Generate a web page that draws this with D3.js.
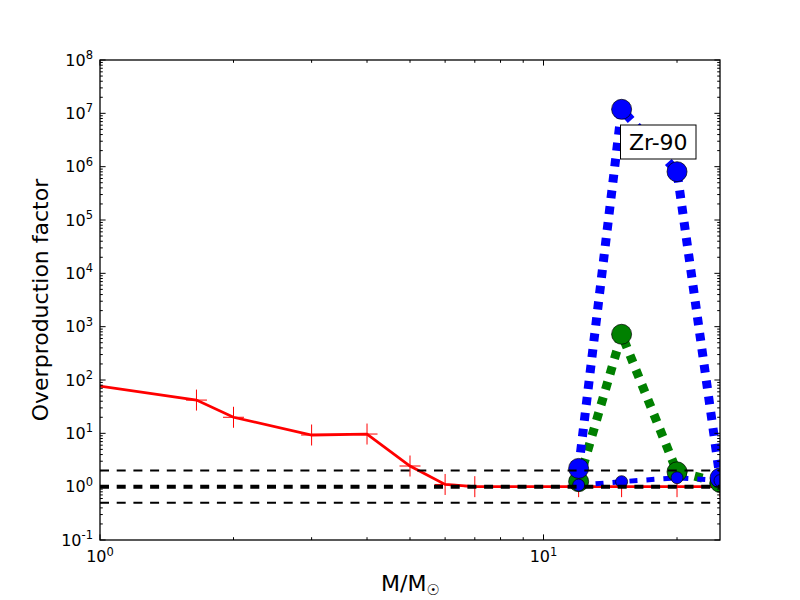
<!DOCTYPE html>
<html>
<head>
<meta charset="utf-8">
<script src="https://cdn.jsdelivr.net/npm/d3@7"></script>
<style>
  body { margin: 0; background: #fff; }
  svg { display: block; font-family: "DejaVu Sans", sans-serif; }
</style>
</head>
<body>
<svg id="chart" width="800" height="600"></svg>
<script>
// ---- data ----
const redMasses = [0.9, 1.65, 2, 3, 4, 5, 6, 7, 12, 15, 20, 25];
const redValues = [87, 42, 20, 9.3, 9.7, 2.44, 1.1, 1.0, 1.0, 1.0, 1.0, 1.0];
const massiveMasses = [12, 15, 20, 25];
const blueBigValues = [2.2, 1.19e7, 8.05e5, 1.45];
const greenValues = [1.24, 720, 1.9, 1.2];
const blueSmallValues = [1.07, 1.24, 1.47, 1.3];
const refLines = [2, 1, 0.5];
const yMajorExp = [-1, 0, 1, 2, 3, 4, 5, 6, 7, 8];
const xMajorExp = [0, 1];
const labelText = "Zr-90";

// ---- layout ----
const W = 800, H = 600;
const M = { left: 100, right: 720, top: 60, bottom: 540 };
const svg = d3.select("#chart");

const x = d3.scaleLog().domain([1, 25]).range([M.left, M.right]);
const y = d3.scaleLog().domain([0.1, 1e8]).range([M.bottom, M.top]);

svg.append("defs").append("clipPath").attr("id", "clip")
  .append("rect").attr("x", M.left).attr("y", M.top)
  .attr("width", M.right - M.left).attr("height", M.bottom - M.top);

const plot = svg.append("g").attr("clip-path", "url(#clip)");

const line = d3.line().x(d => x(d[0])).y(d => y(d[1]));

// red line with + markers
const redData = redMasses.map((m, i) => [m, redValues[i]]);
plot.append("path").datum(redData).attr("d", line)
  .attr("fill", "none").attr("stroke", "red").attr("stroke-width", 2.8)
  .attr("stroke-linejoin", "miter");
const cs = 10.5;
plot.selectAll(".cross").data(redData).enter().append("path")
  .attr("d", d => `M${x(d[0]) - cs},${y(d[1])}H${x(d[0]) + cs}M${x(d[0])},${y(d[1]) - cs}V${y(d[1]) + cs}`)
  .attr("stroke", "red").attr("stroke-width", 1).attr("fill", "none");

function series(vals, color, lw, dash, r) {
  const data = massiveMasses.map((m, i) => [m, vals[i]]);
  plot.append("path").datum(data).attr("d", line)
    .attr("fill", "none").attr("stroke", color).attr("stroke-width", lw)
    .attr("stroke-dasharray", dash).attr("stroke-linecap", "butt");
  return data;
}
function dots(data, color, r) {
  plot.selectAll(null).data(data).enter().append("circle")
    .attr("cx", d => x(d[0])).attr("cy", d => y(d[1])).attr("r", r)
    .attr("fill", color).attr("stroke", "#000").attr("stroke-width", 0.7);
}
const gData = series(greenValues, "#008000", 9, "8,8");
const bData = series(blueBigValues, "#0000ff", 9, "8,8");
const sData = series(blueSmallValues, "#0000ff", 5, "8,9");
dots(gData, "#008000", 10);
dots(bData, "#0000ff", 10);
dots(sData, "#0000ff", 6);

// reference lines
refLines.forEach(v => {
  plot.append("line")
    .attr("x1", M.left).attr("x2", M.right)
    .attr("y1", y(v)).attr("y2", y(v))
    .attr("stroke", "#000").attr("stroke-width", v === 1 ? 4 : 2)
    .attr("stroke-dasharray", "9,7.7");
});

// frame
svg.append("rect").attr("x", M.left).attr("y", M.top)
  .attr("width", M.right - M.left).attr("height", M.bottom - M.top)
  .attr("fill", "none").attr("stroke", "#000").attr("stroke-width", 1.3);

// ticks
const majL = 5.6, minL = 2.8;
const ticks = svg.append("g").attr("stroke", "#000").attr("stroke-width", 1);
const yMinor = [];
yMajorExp.forEach(e => { for (let k = 2; k <= 9; k++) { const v = k * Math.pow(10, e); if (v < 1e8) yMinor.push(v); } });
const xMinor = [];
[0, 1].forEach(e => { for (let k = 2; k <= 9; k++) { const v = k * Math.pow(10, e); if (v <= 25) xMinor.push(v); } });

yMajorExp.forEach(e => {
  const yy = y(Math.pow(10, e));
  ticks.append("line").attr("x1", M.left).attr("x2", M.left + majL).attr("y1", yy).attr("y2", yy);
  ticks.append("line").attr("x1", M.right).attr("x2", M.right - majL).attr("y1", yy).attr("y2", yy);
});
yMinor.forEach(v => {
  const yy = y(v);
  ticks.append("line").attr("x1", M.left).attr("x2", M.left + minL).attr("y1", yy).attr("y2", yy);
  ticks.append("line").attr("x1", M.right).attr("x2", M.right - minL).attr("y1", yy).attr("y2", yy);
});
xMajorExp.forEach(e => {
  const xx = x(Math.pow(10, e));
  ticks.append("line").attr("x1", xx).attr("x2", xx).attr("y1", M.bottom).attr("y2", M.bottom - majL);
  ticks.append("line").attr("x1", xx).attr("x2", xx).attr("y1", M.top).attr("y2", M.top + majL);
});
xMinor.forEach(v => {
  const xx = x(v);
  ticks.append("line").attr("x1", xx).attr("x2", xx).attr("y1", M.bottom).attr("y2", M.bottom - minL);
  ticks.append("line").attr("x1", xx).attr("x2", xx).attr("y1", M.top).attr("y2", M.top + minL);
});

// tick labels
yMajorExp.forEach(e => {
  const t = svg.append("text").attr("x", 93).attr("y", y(Math.pow(10, e)) + 5.5)
    .attr("text-anchor", "end").attr("font-size", 16).attr("fill", "#000");
  t.append("tspan").text("10");
  t.append("tspan").attr("font-size", 11.5).attr("dy", -6.5).text(String(e));
});
xMajorExp.forEach(e => {
  const t = svg.append("text").attr("x", x(Math.pow(10, e))).attr("y", 562)
    .attr("text-anchor", "middle").attr("font-size", 16).attr("fill", "#000");
  t.append("tspan").text("10");
  t.append("tspan").attr("font-size", 11.5).attr("dy", -6.5).text(String(e));
});

// axis labels
svg.append("text").attr("transform", "translate(48,300) rotate(-90)")
  .attr("text-anchor", "middle").attr("font-size", 22).text("Overproduction factor");
const xl = svg.append("text").attr("x", 381).attr("y", 591).attr("font-size", 22);
xl.append("tspan").text("M/M");
xl.append("tspan").attr("font-size", 15).attr("dy", 4).text("\u2609");

// annotation box
const ann = svg.append("g");
ann.append("rect").attr("x", 620.5).attr("y", 125).attr("width", 75.5).attr("height", 34)
  .attr("fill", "#fff").attr("stroke", "#000").attr("stroke-width", 1);
ann.append("text").attr("x", 658.3).attr("y", 150).attr("text-anchor", "middle")
  .attr("font-size", 22).text(labelText);
</script>
</body>
</html>
